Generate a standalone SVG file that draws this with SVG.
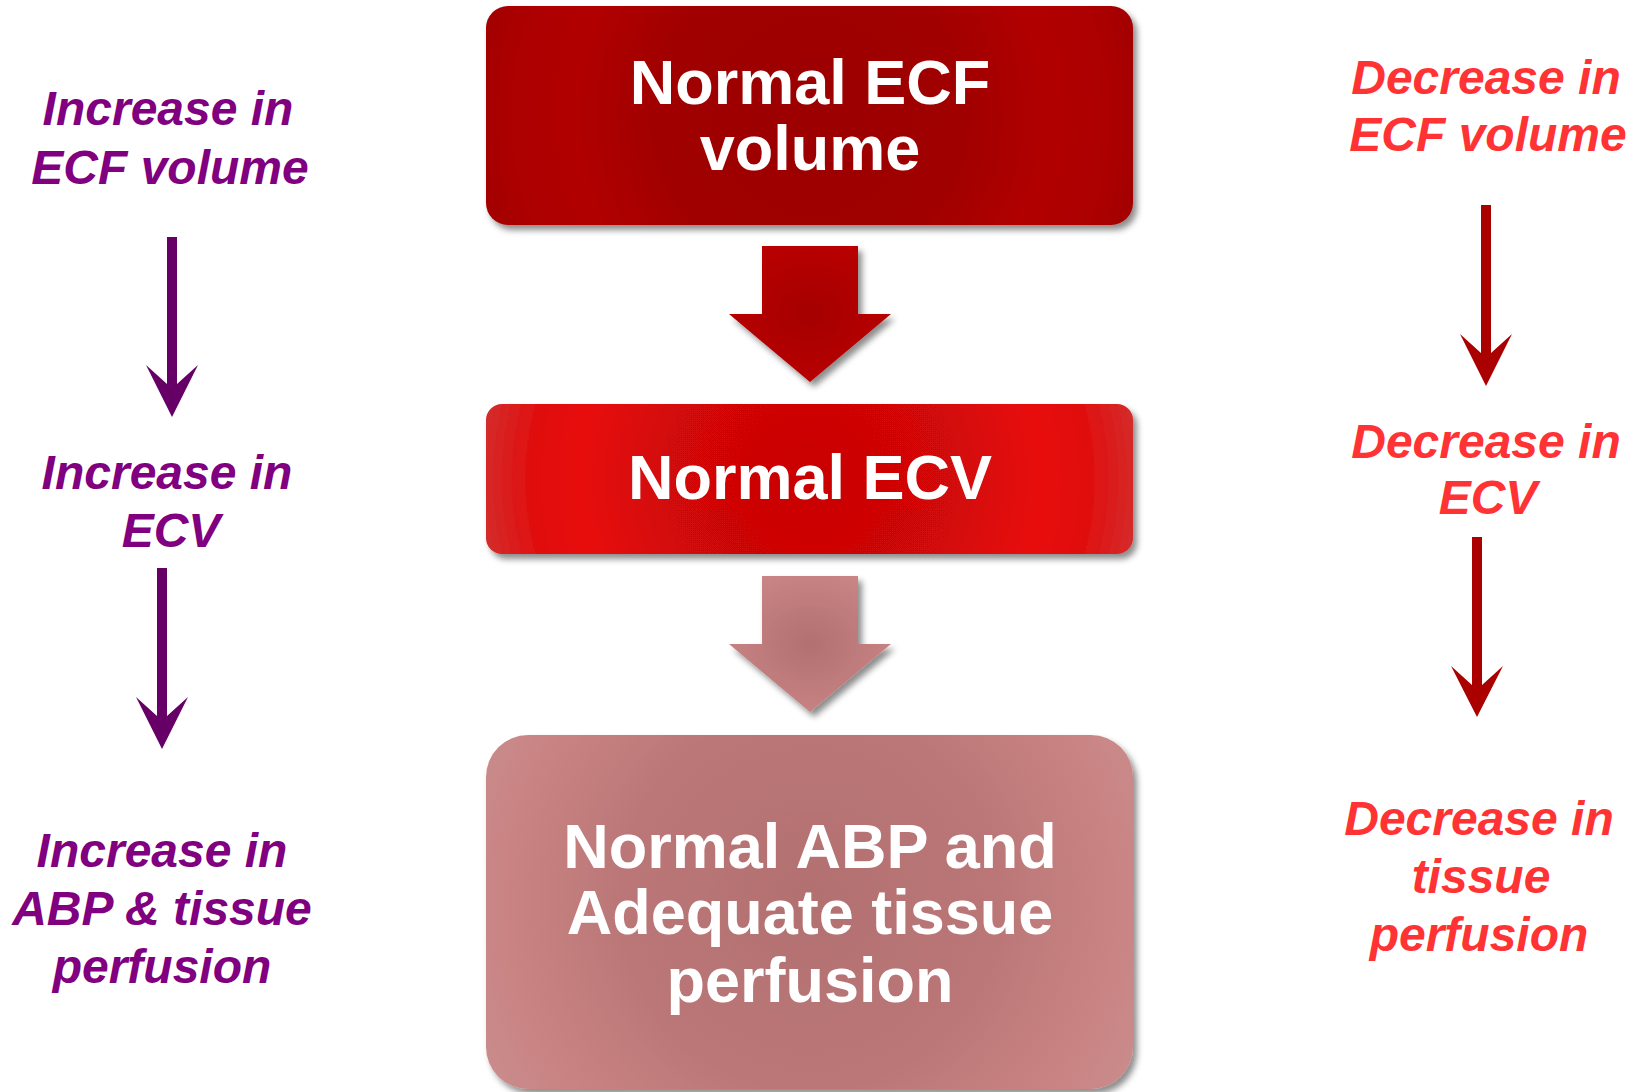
<svg xmlns="http://www.w3.org/2000/svg" width="1635" height="1092" viewBox="0 0 1635 1092">
  <defs>
    <style>
      .box-text { font-family: "Liberation Sans", Arial, sans-serif; font-weight: bold; font-size: 63px; fill: #ffffff; text-anchor: middle; }
      .inc { font-family: "Liberation Sans", Arial, sans-serif; font-weight: bold; font-style: italic; font-size: 48px; fill: #800080; text-anchor: middle; }
      .dec { font-family: "Liberation Sans", Arial, sans-serif; font-weight: bold; font-style: italic; font-size: 48px; fill: #ff3333; text-anchor: middle; }
      .inc-arrow { fill: #660066; }
      .dec-arrow { fill: #aa0000; }
    </style>
    <filter id="shadow" x="-5%" y="-5%" width="115%" height="125%">
      <feDropShadow dx="4" dy="5" stdDeviation="3" flood-color="#000000" flood-opacity="0.45"/>
    </filter>
    <radialGradient id="gTop" gradientUnits="userSpaceOnUse" cx="810" cy="115" r="330">
      <stop offset="0" stop-color="#9c0000"/>
      <stop offset="0.45" stop-color="#a00000"/>
      <stop offset="0.72" stop-color="#b10000"/>
      <stop offset="0.9" stop-color="#ad0000"/>
      <stop offset="1" stop-color="#a40000"/>
    </radialGradient>
    <radialGradient id="gMid" gradientUnits="userSpaceOnUse" cx="810" cy="479" r="330">
      <stop offset="0" stop-color="#c90505"/>
      <stop offset="0.45" stop-color="#d30707"/>
      <stop offset="0.7" stop-color="#e80c0c"/>
      <stop offset="0.86" stop-color="#df1111"/>
      <stop offset="1" stop-color="#d42c2c"/>
    </radialGradient>
    <radialGradient id="gBot" gradientUnits="userSpaceOnUse" cx="810" cy="900" r="420">
      <stop offset="0" stop-color="#b37070"/>
      <stop offset="0.45" stop-color="#bb7777"/>
      <stop offset="0.72" stop-color="#c98383"/>
      <stop offset="1" stop-color="#cb9393"/>
    </radialGradient>
    <radialGradient id="gArr1" cx="0.5" cy="0.5" r="0.6">
      <stop offset="0" stop-color="#a50000"/>
      <stop offset="1" stop-color="#bb0000"/>
    </radialGradient>
    <radialGradient id="gArr2" cx="0.5" cy="0.5" r="0.6">
      <stop offset="0" stop-color="#b27070"/>
      <stop offset="1" stop-color="#cb8686"/>
    </radialGradient>
  </defs>

  <rect width="1635" height="1092" fill="#ffffff"/>

  <g id="node-normal-ecf">
    <rect x="486" y="6" width="647" height="219" rx="22" fill="url(#gTop)" filter="url(#shadow)"/>
    <text class="box-text" x="810" y="104">Normal ECF</text>
    <text class="box-text" x="810" y="170">volume</text>
  </g>

  <g id="node-normal-ecv">
    <rect x="486" y="404" width="647" height="150" rx="16" fill="url(#gMid)" filter="url(#shadow)"/>
    <text class="box-text" x="810" y="499">Normal ECV</text>
  </g>

  <g id="node-normal-abp">
    <rect x="486" y="735" width="647" height="354" rx="42" fill="url(#gBot)" filter="url(#shadow)"/>
    <text class="box-text" x="810" y="868">Normal ABP and</text>
    <text class="box-text" x="810" y="934">Adequate tissue</text>
    <text class="box-text" x="810" y="1002">perfusion</text>
  </g>

  <g id="node-inc-ecf">
    <text class="inc" x="168" y="125">Increase in</text>
    <text class="inc" x="170" y="184">ECF volume</text>
  </g>
  <g id="node-inc-ecv">
    <text class="inc" x="167" y="489">Increase in</text>
    <text class="inc" x="171" y="547">ECV</text>
  </g>
  <g id="node-inc-abp">
    <text class="inc" x="162" y="867">Increase in</text>
    <text class="inc" x="162" y="925">ABP &amp; tissue</text>
    <text class="inc" x="162" y="983">perfusion</text>
  </g>

  <g id="node-dec-ecf">
    <text class="dec" x="1486" y="94">Decrease in</text>
    <text class="dec" x="1488" y="151">ECF volume</text>
  </g>
  <g id="node-dec-ecv">
    <text class="dec" x="1486" y="458">Decrease in</text>
    <text class="dec" x="1488" y="514">ECV</text>
  </g>
  <g id="node-dec-perf">
    <text class="dec" x="1479" y="835">Decrease in</text>
    <text class="dec" x="1481" y="893">tissue</text>
    <text class="dec" x="1479" y="951">perfusion</text>
  </g>

  <g id="connectors">
    <polygon points="762,246 858,246 858,314 891,314 810,382 729,314 762,314" fill="url(#gArr1)" filter="url(#shadow)"/>
    <polygon points="762,576 858,576 858,644 891,644 810,712 729,644 762,644" fill="url(#gArr2)" filter="url(#shadow)"/>

    <polygon class="inc-arrow" points="167,237 177,237 177,384 198,365 172,417 146,365 167,384"/>
    <polygon class="inc-arrow" points="157,568 167,568 167,716 188,697 162,749 136,697 157,716"/>

    <polygon class="dec-arrow" points="1481,205 1491,205 1491,353 1512,334 1486,386 1460,334 1481,353"/>
    <polygon class="dec-arrow" points="1472,537 1482,537 1482,685 1503,666 1477,717 1451,666 1472,685"/>
  </g>
</svg>
